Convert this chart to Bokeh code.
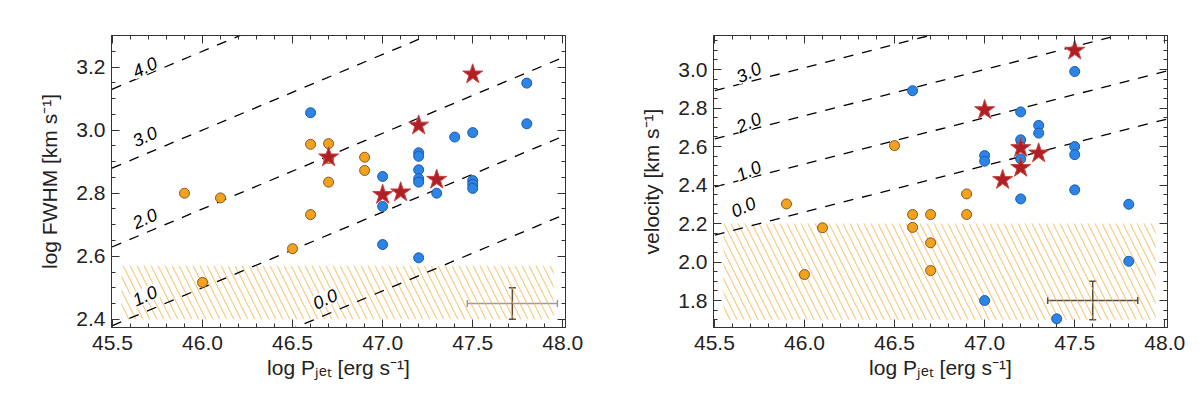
from bokeh.plotting import figure
from bokeh.layouts import row
from bokeh.models import (LinearAxis, SingleIntervalTicker, Range1d, Whisker,
                          ColumnDataSource, TeeHead, PrintfTickFormatter,
                          CustomLabelingPolicy)
from bokeh.core.properties import value
from bokeh.embed import file_html
from bokeh.resources import INLINE

# ---------------- data ----------------
# left panel: log FWHM vs log P_jet
fw_orange_x = [45.9, 46.1, 46.0, 46.5, 46.6, 46.6, 46.7, 46.7, 46.7, 46.9, 46.9]
fw_orange_y = [2.80, 2.785, 2.517, 2.624, 2.955, 2.732, 2.957, 2.835, 2.91, 2.914, 2.872]
fw_blue_x = [46.6, 47.0, 47.0, 47.0, 47.2, 47.2, 47.2, 47.2, 47.2, 47.2,
             47.3, 47.4, 47.5, 47.5, 47.5, 47.5, 47.8, 47.8]
fw_blue_y = [3.055, 2.853, 2.758, 2.637, 2.928, 2.917, 2.874, 2.846, 2.835, 2.595,
             2.80, 2.978, 2.992, 2.84, 2.828, 2.815, 3.149, 3.02]
fw_star_x = [46.7, 47.0, 47.1, 47.2, 47.3, 47.5]
fw_star_y = [2.914, 2.795, 2.803, 3.015, 2.843, 3.177]

# right panel: velocity vs log P_jet
v_orange_x = [45.9, 46.1, 46.0, 46.5, 46.6, 46.6, 46.7, 46.7, 46.7, 46.9, 46.9]
v_orange_y = [2.302, 2.178, 1.935, 2.605, 2.247, 2.18, 2.247, 2.10, 1.956, 2.247, 2.354]
v_blue_x = [46.6, 47.0, 47.0, 47.0, 47.2, 47.2, 47.2, 47.2, 47.2, 47.3, 47.3,
            47.4, 47.5, 47.5, 47.5, 47.5, 47.8, 47.8]
v_blue_y = [2.89, 2.553, 2.524, 1.80, 2.78, 2.635, 2.60, 2.536, 2.328, 2.71, 2.67,
            1.705, 2.99, 2.60, 2.558, 2.375, 2.30, 2.004]
v_star_x = [47.0, 47.1, 47.2, 47.2, 47.3, 47.5]
v_star_y = [2.79, 2.427, 2.593, 2.49, 2.565, 3.099]

# model lines (dashed): value at log P_jet = 45.5 and common slope
line_slope = 0.24
line_x_ends = [45.4, 48.1]
fw_levels = ["4.0", "3.0", "2.0", "1.0", "0.0"]
fw_line_y0 = [3.13, 2.88, 2.63, 2.38, 2.13]
v_levels = ["3.0", "2.0", "1.0", "0.0"]
v_line_y0 = [2.89, 2.64, 2.39, 2.14]

# contour label positions
fw_lab_x = [45.68, 45.68, 45.68, 45.68, 46.68]
fw_lab_y = [3.20, 2.98, 2.72, 2.475, 2.465]
v_lab_x = [45.69, 45.69, 45.69, 45.66]
v_lab_y = [2.986, 2.726, 2.475, 2.287]

# hatched excluded regions [x0, x1, y0, y1]
fw_region = [45.55, 47.95, 2.40, 2.57]
v_region = [45.55, 47.95, 1.70, 2.20]

# typical error bars: x, y, dx, dy
fw_err = [47.72, 2.45, 0.25, 0.05]
v_err = [47.60, 1.80, 0.25, 0.10]

FONT = "Liberation Sans"
AX = "#333333"
BLUE, BLUE_E = "#2b84e6", "#1b5cae"
ORANGE, ORANGE_E = "#f4a11c", "#7d5a2e"
STAR, STAR_E = "#b01f25", "#c8453f"
HATCH = "#f3b047"

NO_LABELS = CustomLabelingPolicy(code="""
    const keep = []
    for (const i of indices) keep.push(i)
    for (const i of keep) indices.unset(i)
    return indices
""")


def mirror(p, loc, ticker):
    ax = LinearAxis(ticker=ticker, major_label_policy=NO_LABELS,
                    major_label_standoff=0,
                    major_tick_in=8, major_tick_out=0,
                    minor_tick_in=4, minor_tick_out=0,
                    axis_line_color=AX, major_tick_line_color=AX,
                    minor_tick_line_color=AX)
    p.add_layout(ax, loc)


def make_panel(ylabel, yr, yint, ox, oy, bx, by, sx, sy, levels, y0s,
               lab_x, lab_y, region, err, left_border, right_border, width,
               hbar_color, vbar_color):
    p = figure(width=width, height=390, x_range=Range1d(45.495, 48.015),
               y_range=Range1d(*yr), output_backend="svg",
               toolbar_location=None, min_border_left=left_border,
               min_border_right=right_border, min_border_top=35,
               min_border_bottom=63)
    p.grid.visible = False
    p.outline_line_color = AX
    xt = SingleIntervalTicker(interval=0.5, num_minor_ticks=5)
    yt = SingleIntervalTicker(interval=yint, num_minor_ticks=4)
    for ax, t in ((p.xaxis[0], xt), (p.yaxis[0], yt)):
        ax.ticker = t
        ax.formatter = PrintfTickFormatter(format="%.1f")
        ax.major_tick_in = 8
        ax.major_tick_out = 0
        ax.minor_tick_in = 4
        ax.minor_tick_out = 0
        ax.axis_line_color = AX
        ax.major_tick_line_color = AX
        ax.minor_tick_line_color = AX
        ax.major_label_text_font = FONT
        ax.major_label_text_font_size = "21px"
        ax.major_label_text_color = "#222222"
        ax.axis_label_text_font = FONT
        ax.axis_label_text_font_size = "21px"
        ax.axis_label_text_font_style = "normal"
        ax.axis_label_text_color = "#222222"
    p.xaxis[0].major_label_standoff = 8
    p.xaxis[0].axis_label_standoff = 3
    p.yaxis[0].major_label_standoff = 6
    p.yaxis[0].axis_label_standoff = 12
    p.xaxis[0].axis_label = "log Pⱼₑₜ [erg s⁻¹]"
    p.yaxis[0].axis_label = ylabel
    mirror(p, "above", xt)
    mirror(p, "right", yt)

    # hatched region
    p.quad(left=[region[0]], right=[region[1]], bottom=[region[2]], top=[region[3]],
           fill_color=None, line_color=None, hatch_pattern="\\",
           hatch_color=HATCH, hatch_scale=14, hatch_weight=1.1, hatch_alpha=0.7)

    # dashed model lines
    for y0 in y0s:
        ys = [y0 + line_slope * (x - 45.5) for x in line_x_ends]
        p.line(line_x_ends, ys, line_color="black", line_dash="10 9", line_width=1.3)

    # contour labels
    p.text(x=lab_x, y=lab_y, text=levels, angle=25, angle_units="deg",
           text_font=value(FONT), text_font_size="18px", text_font_style="italic",
           text_color="black", text_align="center", text_baseline="middle",
           background_fill_color="white", padding=1)

    # error bars
    es = ColumnDataSource(dict(x=[err[0]], y=[err[1]],
                               xl=[err[0] - err[2]], xu=[err[0] + err[2]],
                               yl=[err[1] - err[3]], yu=[err[1] + err[3]]))
    p.add_layout(Whisker(source=es, base="y", lower="xl", upper="xu", dimension="width",
                         line_color=hbar_color, line_width=1.5,
                         lower_head=TeeHead(size=7, line_color=hbar_color, line_width=1.5),
                         upper_head=TeeHead(size=7, line_color=hbar_color, line_width=1.5)))
    p.add_layout(Whisker(source=es, base="x", lower="yl", upper="yu", dimension="height",
                         line_color=vbar_color, line_width=1.5,
                         lower_head=TeeHead(size=7, line_color=vbar_color, line_width=1.5),
                         upper_head=TeeHead(size=7, line_color=vbar_color, line_width=1.5)))

    # points
    p.scatter(ox, oy, marker="circle", size=10, fill_color=ORANGE, line_color=ORANGE_E,
              line_width=1)
    p.scatter(bx, by, marker="circle", size=10, fill_color=BLUE, line_color=BLUE_E,
              line_width=1)
    p.scatter(sx, sy, marker="star", size=21, fill_color=STAR, line_color=STAR_E,
              line_width=1)
    return p


p1 = make_panel("log FWHM [km s⁻¹]", (2.374, 3.30), 0.2,
                fw_orange_x, fw_orange_y, fw_blue_x, fw_blue_y, fw_star_x, fw_star_y,
                fw_levels, fw_line_y0, fw_lab_x, fw_lab_y, fw_region, fw_err,
                111, 36, 601, "#9a9a9a", "#5a4a3c")
p2 = make_panel("velocity [km s⁻¹]", (1.66, 3.177), 0.2,
                v_orange_x, v_orange_y, v_blue_x, v_blue_y, v_star_x, v_star_y,
                v_levels, v_line_y0, v_lab_x, v_lab_y, v_region, v_err,
                112, 22, 588, "#5a4a3c", "#5a4a3c")

layout = row(p1, p2)
open("out.html", "w").write(file_html(layout, INLINE))
